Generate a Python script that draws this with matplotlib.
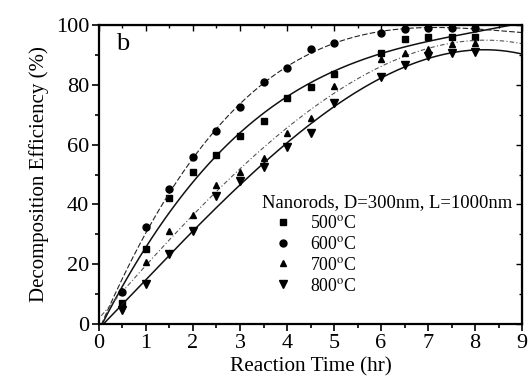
import numpy as np
import matplotlib
matplotlib.use("Agg")
import matplotlib.pyplot as plt
from matplotlib.ticker import MultipleLocator

plt.rcParams['font.family'] = ['Liberation Serif', 'DejaVu Serif']
plt.rcParams['mathtext.fontset'] = 'stix'

# reaction time (hr)
time = [0, 0.5, 1, 1.5, 2, 2.5, 3, 3.5, 4, 4.5, 5, 6, 6.5, 7, 7.5, 8]

# decomposition efficiency (%) per annealing temperature
eff_500 = [0, 7, 25, 42, 50.8, 56.5, 63, 68, 75.5, 79.3, 83.6, 90.6, 95.3, 96, 96, 96]
eff_600 = [0, 10.7, 32.4, 45, 56, 64.5, 72.5, 81, 85.6, 92, 94, 97.3, 98.5, 99, 99, 99]
eff_700 = [0, 11, 20.7, 31, 36.4, 46.5, 51, 55.4, 64, 69, 79.6, 88.6, 90.7, 92, 93.5, 94]
eff_800 = [0, 4.7, 13.4, 23.4, 31, 42.8, 47.8, 52.5, 59.2, 63.8, 74, 82.6, 86.6, 89.6, 90.6, 91]

labels = ['500$^{\\mathrm{o}}$C', '600$^{\\mathrm{o}}$C', '700$^{\\mathrm{o}}$C', '800$^{\\mathrm{o}}$C']

fig = plt.figure(figsize=(5.29, 3.90), dpi=100)
ax = fig.add_axes([0.187, 0.169, 0.80, 0.767])

series = [
    (eff_500, 's', 5.0, '-', 1.1, '#111111'),
    (eff_600, 'o', 5.0, (0, (5, 2)), 0.8, '#222222'),
    (eff_700, '^', 4.5, (0, (4, 2, 1, 2)), 0.8, '#555555'),
    (eff_800, 'v', 6.0, '-', 1.1, '#111111'),
]

xs = np.linspace(0.05, 9, 200)
handles = []
for (y, mk, ms, ls, lw, col), lab in zip(series, labels):
    # polynomial fit curve through the measured points
    coef = np.polyfit(time, y, 3)
    ax.plot(xs, np.polyval(coef, xs), linestyle=ls, color=col, lw=lw)
    h, = ax.plot(time[1:], y[1:], linestyle='none', marker=mk, ms=ms,
                 color='black', label=lab)
    handles.append(h)

ax.set_xlim(0, 9)
ax.set_ylim(0, 100)
ax.xaxis.set_major_locator(MultipleLocator(1))
ax.xaxis.set_minor_locator(MultipleLocator(0.5))
ax.yaxis.set_major_locator(MultipleLocator(20))
ax.yaxis.set_minor_locator(MultipleLocator(10))
ax.tick_params(which='both', direction='out', top=False, right=False, labelsize=16, width=1.2)
ax.tick_params(which='major', length=5, pad=2)
ax.tick_params(which='minor', length=3)
for s in ax.spines.values():
    s.set_linewidth(1.6)

# inward ticks on top and right edges
sec = ax.secondary_xaxis('top')
sec.xaxis.set_major_locator(MultipleLocator(1))
sec.xaxis.set_minor_locator(MultipleLocator(0.5))
sec.tick_params(which='both', direction='in', labeltop=False, width=1.0)
sec.tick_params(which='major', length=4)
sec.tick_params(which='minor', length=2)
secy = ax.secondary_yaxis('right')
secy.yaxis.set_major_locator(MultipleLocator(20))
secy.yaxis.set_minor_locator(MultipleLocator(10))
secy.tick_params(which='both', direction='in', labelright=False, width=1.0)
secy.tick_params(which='major', length=4)
secy.tick_params(which='minor', length=2)

ax.set_xlabel('Reaction Time (hr)', fontsize=15.3, labelpad=3)
ax.set_ylabel('Decomposition Efficiency (%)', fontsize=15, labelpad=5)

ax.text(0.04, 0.935, 'b', transform=ax.transAxes, fontsize=19, va='center', ha='left')

leg = ax.legend(handles=handles, title='Nanorods, D=300nm, L=1000nm', loc='upper left',
                bbox_to_anchor=(0.385, 0.435), frameon=False, fontsize=12.8,
                title_fontsize=13.4, handlelength=2.4, handletextpad=0.3,
                labelspacing=0.22, alignment='left', borderaxespad=0, borderpad=0)

fig.savefig('out.png', dpi=100)
